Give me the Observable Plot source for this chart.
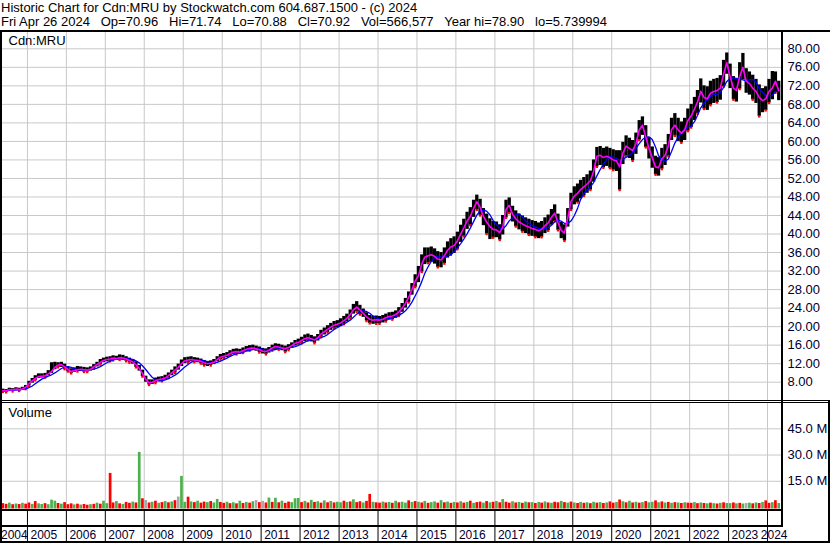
<!DOCTYPE html>
<html><head><meta charset="utf-8">
<script src="https://cdn.jsdelivr.net/npm/d3@7"></script>
<script src="https://cdn.jsdelivr.net/npm/@observablehq/plot@0.6"></script>
<style>
html,body{margin:0;padding:0;background:#fff;}
#wrap{position:relative;width:830px;height:543px;overflow:hidden;background:#fff;font-family:"Liberation Sans",Arial,sans-serif;color:#000;}
.abs{position:absolute;}
.txt{font-size:13px;line-height:14.4px;white-space:pre;}
.ln{position:absolute;background:#000;}
svg{overflow:visible;}
</style></head><body>
<div id="wrap">
  <div class="abs txt" id="title" style="left:1px;top:1px"></div>
  <div class="abs txt" id="info" style="left:1px;top:15.4px"></div>
  <div class="abs" id="price" style="left:0;top:32px"></div>
  <div class="abs" id="vol" style="left:0;top:403px"></div>
  <div class="abs" id="dates" style="left:0;top:510px"></div>
  <div class="abs txt" id="sym" style="left:8.5px;top:34.2px"></div>
  <div class="abs txt" id="vlab" style="left:8.5px;top:406.2px"></div>
  <div class="ln" style="left:0;top:30px;width:830px;height:2px"></div>
  <div class="ln" style="left:0;top:400px;width:830px;height:1px"></div>
  <div class="ln" style="left:0;top:402px;width:830px;height:1px"></div>
  <div class="ln" style="left:0;top:509px;width:783px;height:2px"></div>
  <div class="ln" style="left:0;top:525px;width:783px;height:2px"></div>
  <div class="ln" style="left:0;top:541px;width:830px;height:2px"></div>
  <div class="ln" style="left:0;top:30px;width:2px;height:513px"></div>
  <div class="ln" style="left:781px;top:30px;width:2px;height:497px"></div>
  <div class="ln" style="left:828px;top:400px;width:2px;height:143px"></div>
</div>
<script>
// ---------- text ----------
const titleText = "Historic Chart for Cdn:MRU by Stockwatch.com 604.687.1500 - (c) 2024";
const infoText = "Fri Apr 26 2024   Op=70.96   Hi=71.74   Lo=70.88   Cl=70.92   Vol=566,577   Year hi=78.90   lo=5.739994";
const symbolText = "Cdn:MRU";
const volumeText = "Volume";

// ---------- data (monthly, from 2004-05 to 2024-04) ----------
const startMonth = "2004-05";
const closes = [
  6.2, 6.1, 6.4, 6.3, 6.5, 6.4, 6.6, 6.9,
  7.7, 8.3, 8.8, 9.2, 9.3, 9.4, 9.8, 10.3, 11.2, 11.7, 11.8, 11.3,
  10.8, 10.3, 10.5, 10.7, 10.8, 10.7, 10.6, 10.8, 11.3, 11.8, 12.3, 12.7,
  12.9, 13.0, 13.2, 13.1, 13.3, 13.2, 13.0, 12.7, 12.4, 11.8, 11.0, 9.9,
  8.6, 7.9, 8.0, 8.3, 8.6, 8.7, 8.9, 9.4, 10.0, 10.6, 11.2, 12.0,
  12.6, 12.8, 12.9, 12.8, 12.7, 12.5, 12.2, 12.0, 12.1, 12.3, 12.9, 13.4,
  13.6, 13.8, 14.2, 14.5, 14.6, 14.5, 14.8, 15.1, 15.3, 15.4, 15.2, 15.0,
  14.7, 14.6, 14.9, 15.4, 15.7, 15.6, 15.4, 15.2, 15.5, 15.9, 16.4, 16.6,
  17.0, 17.4, 17.6, 17.4, 17.1, 17.6, 18.4, 18.9, 19.4, 19.9, 20.3, 20.5,
  20.8, 21.3, 21.8, 22.6, 23.6, 24.2, 23.6, 22.9, 22.1, 21.6, 21.4, 21.5,
  21.4, 21.6, 21.9, 22.2, 22.3, 22.6, 23.2, 24.0, 25.0, 26.3, 28.0, 29.8,
  31.0, 33.5, 35.0, 35.3, 35.5, 35.2, 34.6, 34.4, 35.3, 36.5, 37.2, 37.5,
  38.5, 40.0, 41.3, 42.8, 43.8, 45.5, 47.0, 45.8, 43.8, 42.6, 41.6, 41.0,
  40.9, 40.3, 41.5, 45.3, 46.2, 44.3, 43.3, 42.6, 42.2, 41.8, 41.5, 41.2,
  41.0, 40.7, 41.0, 41.8, 42.4, 43.6, 44.5, 42.5, 40.8, 40.2, 43.5, 47.0,
  48.2, 48.8, 49.6, 50.2, 50.8, 51.5, 53.5, 56.8, 57.0, 56.5, 56.8, 56.5,
  56.0, 55.8, 54.5, 57.5, 59.0, 58.5, 58.0, 59.5, 62.5, 63.5, 61.0, 58.5,
  56.5, 54.5, 54.3, 56.2, 57.0, 59.0, 62.5, 63.5, 62.5, 61.8, 62.5, 64.5,
  65.5, 67.0, 68.5, 70.8, 69.5, 69.2, 70.4, 70.8, 71.0, 71.5, 74.5, 77.0,
  74.0, 71.5, 71.0, 74.0, 76.0, 73.0, 72.5, 71.5, 70.8, 69.5, 68.8, 69.2,
  70.8, 71.5, 73.0, 71.0
];
const highs = [
  6.5, 6.4, 6.7, 6.6, 6.8, 6.7, 6.9, 7.3,
  8.2, 8.8, 9.4, 9.8, 9.8, 9.9, 10.5, 12.2, 12.3, 12.2, 12.3, 11.9,
  11.3, 10.9, 11.1, 11.4, 11.3, 11.2, 11.1, 11.3, 11.8, 12.3, 12.9, 13.2,
  13.4, 13.5, 13.7, 13.6, 13.9, 13.8, 13.5, 13.2, 12.9, 12.4, 11.6, 10.6,
  9.3, 8.5, 8.5, 8.9, 9.1, 9.2, 9.5, 10.0, 10.6, 11.3, 11.9, 12.8,
  13.3, 13.4, 13.5, 13.3, 13.2, 13.0, 12.7, 12.5, 12.6, 12.9, 13.5, 14.0,
  14.2, 14.4, 14.8, 15.1, 15.2, 15.1, 15.4, 15.7, 15.9, 16.0, 15.8, 15.6,
  15.3, 15.2, 15.5, 16.0, 16.3, 16.2, 16.0, 15.8, 16.1, 16.5, 17.0, 17.3,
  17.7, 18.2, 18.4, 18.1, 17.8, 18.3, 19.2, 19.7, 20.2, 20.7, 21.1, 21.3,
  21.7, 22.2, 22.7, 23.6, 24.8, 25.4, 24.6, 23.8, 23.0, 22.4, 22.2, 22.3,
  22.2, 22.4, 22.7, 23.0, 23.1, 23.4, 24.1, 25.0, 26.1, 27.5, 29.3, 31.2,
  33.0, 35.5, 37.0, 37.0, 37.2, 36.8, 36.2, 36.0, 37.0, 38.3, 39.0, 39.4,
  40.4, 41.9, 43.2, 44.7, 45.7, 47.3, 48.4, 47.5, 45.5, 44.3, 43.3, 42.7,
  42.6, 42.0, 44.0, 47.3, 47.8, 46.0, 45.0, 44.3, 43.9, 43.5, 43.2, 42.9,
  42.7, 42.4, 42.7, 43.5, 44.1, 45.3, 46.3, 44.3, 42.5, 42.0, 45.5, 48.8,
  50.2, 50.8, 51.6, 52.2, 52.8, 53.6, 56.0, 58.7, 58.9, 58.5, 58.8, 58.5,
  58.2, 58.0, 58.0, 59.8, 61.2, 60.7, 60.2, 61.8, 64.5, 65.3, 63.4, 60.8,
  58.8, 56.8, 56.5, 58.5, 59.3, 61.5, 65.0, 66.0, 65.0, 64.2, 65.0, 67.0,
  68.0, 69.5, 71.0, 73.5, 72.0, 71.8, 73.0, 73.4, 73.6, 74.2, 77.5, 79.1,
  76.7, 74.0, 73.5, 77.0, 79.0, 75.7, 75.0, 74.3, 73.4, 72.2, 71.4, 71.8,
  73.4, 75.1, 75.0, 73.0
];
const lows = [
  5.9, 5.8, 6.0, 6.0, 6.2, 6.1, 6.3, 6.5,
  7.2, 7.8, 8.4, 8.8, 8.9, 9.0, 9.4, 9.9, 10.7, 11.2, 11.2, 10.8,
  10.3, 9.9, 10.1, 10.3, 10.3, 10.2, 10.2, 10.4, 10.9, 11.3, 11.8, 12.2,
  12.4, 12.5, 12.7, 12.7, 12.8, 12.7, 12.5, 12.2, 11.9, 11.2, 10.4, 9.2,
  8.0, 7.4, 7.5, 7.8, 8.1, 8.2, 8.4, 8.9, 9.4, 10.0, 10.6, 11.4,
  12.0, 12.2, 12.4, 12.3, 12.2, 12.0, 11.6, 11.4, 11.6, 11.8, 12.4, 12.9,
  13.1, 13.3, 13.7, 14.0, 14.0, 14.0, 14.3, 14.6, 14.8, 14.9, 14.7, 14.4,
  14.1, 14.0, 14.3, 14.8, 15.1, 15.0, 14.8, 14.5, 14.9, 15.3, 15.8, 16.0,
  16.4, 16.8, 17.0, 16.7, 16.4, 16.9, 17.7, 18.2, 18.7, 19.2, 19.6, 19.8,
  20.0, 20.5, 21.0, 21.8, 22.7, 23.2, 22.6, 22.0, 21.2, 20.7, 20.5, 20.6,
  20.6, 20.8, 21.1, 21.4, 21.5, 21.8, 22.3, 23.1, 24.0, 25.2, 26.8, 28.5,
  29.5, 31.8, 33.4, 33.7, 33.9, 33.5, 32.8, 32.7, 33.6, 34.8, 35.5, 35.8,
  36.7, 38.2, 39.5, 41.0, 41.9, 43.6, 45.2, 44.0, 41.8, 40.0, 38.8, 39.2,
  39.2, 38.7, 39.8, 43.5, 44.5, 42.6, 41.6, 40.9, 40.5, 40.1, 39.8, 39.5,
  39.3, 39.0, 39.3, 40.1, 40.7, 41.9, 42.7, 40.8, 39.0, 38.5, 41.5, 45.2,
  46.3, 46.8, 47.6, 48.2, 48.8, 49.5, 51.2, 54.5, 54.8, 54.3, 54.6, 54.2,
  53.8, 53.5, 49.5, 55.0, 56.8, 56.3, 55.8, 57.2, 60.3, 61.3, 58.7, 56.2,
  54.2, 52.8, 52.5, 54.0, 54.8, 56.8, 60.2, 61.2, 60.0, 59.7, 60.2, 62.2,
  63.0, 64.5, 66.0, 68.3, 67.0, 66.7, 67.8, 68.2, 68.4, 68.9, 71.8, 74.5,
  71.4, 69.0, 68.5, 71.3, 73.3, 70.4, 70.0, 69.0, 68.2, 65.4, 66.2, 66.7,
  68.3, 69.0, 70.5, 68.8
];
// volume in millions of shares
const volumes = [
  2.2, 1.8, 2.5, 1.6, 2.0, 1.7, 2.4, 1.9,
  2.6, 1.8, 3.4, 2.1, 1.7, 2.2, 1.6, 4.2, 3.6, 2.3, 1.9, 2.8,
  1.6, 2.1, 1.5, 1.9, 1.4, 1.7, 1.3, 1.6, 1.8, 2.5, 1.9, 3.6,
  2.2, 19.5, 2.6, 3.4, 2.1, 1.8, 2.9, 2.4, 3.1, 2.6, 31.5, 5.0,
  4.0, 2.6, 3.0, 3.6, 2.4, 2.8, 3.4, 2.7, 3.2, 3.9, 6.0, 17.8,
  3.0, 5.9, 3.2, 2.8, 3.6, 2.5, 3.1, 2.8, 3.4, 2.6, 4.6, 2.9,
  2.4, 3.0, 2.2, 2.7, 2.1, 3.6, 2.3, 2.9, 2.5, 3.3, 4.0, 2.8,
  3.5, 2.6, 5.4, 2.9, 5.3, 2.7, 3.6, 2.4, 3.1, 2.8, 5.0, 5.2,
  2.8, 3.5, 2.6, 4.1, 2.9, 3.3, 2.5, 3.8, 2.7, 3.4, 2.6, 3.0,
  2.7, 3.6, 2.9, 3.2, 4.4, 2.8, 3.3, 2.6, 3.5, 7.5, 3.0, 2.7,
  2.5, 3.1, 2.6, 2.9, 2.4, 3.6, 2.7, 3.0, 2.5, 3.8, 2.9, 3.4,
  3.0, 2.6, 3.5, 2.4, 2.8, 3.2, 2.5, 3.9, 2.7, 3.1, 2.4, 2.9,
  2.6, 3.3, 2.5, 2.9, 3.6, 2.4, 2.8, 3.1, 2.5, 3.4, 2.7, 3.0,
  3.4, 2.7, 4.6, 3.0, 2.5, 3.3, 2.6, 2.9, 2.4, 3.1, 2.7, 2.8,
  2.3, 2.9, 2.5, 3.2, 2.6, 2.4, 3.0, 2.7, 3.5, 2.8, 2.5, 3.1,
  2.6, 2.3, 2.9, 2.4, 2.7, 2.2, 3.0, 2.5, 2.8, 2.3, 2.6, 3.2,
  2.5, 2.9, 4.3, 3.3, 2.7, 3.6, 2.6, 3.0, 2.5, 2.8, 3.4, 2.7,
  3.0, 3.8, 2.7, 3.2, 2.6, 2.9, 2.4, 2.8, 2.6, 2.3, 2.7, 2.5,
  2.4, 2.8, 2.2, 2.6, 2.3, 2.1, 2.5, 2.2, 2.0, 2.4, 2.7, 2.3,
  2.2, 2.6, 2.1, 2.4, 2.0, 2.3, 2.5, 2.1, 2.6, 2.3, 2.9, 3.8,
  2.4, 2.8, 3.9, 2.3
];
// volume bar direction: g = up, r = down, n = unchanged
const volDirs =
  "rrgrgrgr" +
  "rgrggrgggrgr" + "rrgrgrrgrgrg" + "grrgrgrrgrgr" + "nrgrgrgrgrng" +
  "grgrgrrgrggr" + "rgrgrgrgrgnr" + "nrgrgrgrrggg" + "rgrgrgrgrgrg" +
  "grgrgrrgrrgr" + "rgrgrgrggrgr" + "grgrggrgrgrg" + "rgrgrgrrgrgr" +
  "grgrrgrgrgrg" + "rgrgrgrrgrgr" + "grgrgrgrgrgr" + "rgrgrgrgrgrg" +
  "grgrgrgrgrgr" + "rgrgrgrgrgrg" + "grgrgngrgrgr" + "rgrg";
const dirColors = {g: "#4cb04c", r: "#ff0000", n: "#a8a8a8"};

const priceTicks = [8, 12, 16, 20, 24, 28, 32, 36, 40, 44, 48, 52, 56, 60, 64, 68, 72, 76, 80];
const volTicks = [15, 30, 45];
const gridYears = [2005, 2006, 2007, 2008, 2009, 2010, 2011, 2012, 2013, 2014, 2015, 2016, 2017, 2018, 2019, 2020, 2021, 2022, 2023, 2024];
const yearLabels = ["2004", "2005", "2006", "2007", "2008", "2009", "2010", "2011", "2012", "2013", "2014", "2015", "2016", "2017", "2018", "2019", "2020", "2021", "2022", "2023", "2024"];

// ---------- header text ----------
document.getElementById("title").textContent = titleText;
document.getElementById("info").textContent = infoText;
document.getElementById("sym").textContent = symbolText;
document.getElementById("vlab").textContent = volumeText;

// ---------- build rows ----------
const t0 = d3.utcParse("%Y-%m")(startMonth);
const rows = closes.map((c, i) => ({
  date: d3.utcDay.offset(d3.utcMonth.offset(t0, i), 14),
  close: c, hi: highs[i], lo: lows[i], vol: volumes[i], dir: volDirs[i]
}));
const yearDates = gridYears.map(y => new Date(Date.UTC(y, 0, 1)));

// ---------- layout ----------
const W = 830, ML = 2, MR = 49;
const xDomain = [new Date(Date.UTC(2004, 4, 12)), new Date(Date.UTC(2024, 4, 11))];
const FONT = "Liberation Sans, Arial, sans-serif";
const GRID = "#c8c8c8";
const LABEL = "#000030";

// price panel: svg spans page y 32..400
const PH = 368, pTop = 16.3, pBot = 349.7; // pixel rows of 80 and 8
const ppu = (pBot - pTop) / 72;
const pDomain = [8 - (PH - pBot) / ppu, 80 + pTop / ppu];

const price = Plot.plot({
  width: W, height: PH, marginLeft: ML, marginRight: MR, marginTop: 0, marginBottom: 0,
  x: {type: "utc", domain: xDomain, axis: null},
  y: {domain: pDomain, label: null, axis: null},
  style: {fontFamily: FONT, fontSize: "13px", background: "transparent", overflow: "visible"},
  marks: [
    Plot.ruleY(priceTicks, {stroke: GRID, strokeWidth: 1}),
    Plot.ruleX(yearDates, {stroke: GRID, strokeWidth: 1}),
    Plot.ruleX(rows, {x: "date", y1: "lo", y2: "hi", stroke: "#000", strokeWidth: 3.3}),
    Plot.dot(rows.filter(d => d.dir === "r"), {x: "date", y: "lo", r: 1.3, fill: "#ff0000", symbol: "square"}),
    Plot.lineY(rows, Plot.windowY({k: 5, anchor: "end"}, {x: "date", y: "close", stroke: "#0000ff", strokeWidth: 1.3})),
    Plot.lineY(rows, {x: "date", y: "close", stroke: "#ff00ff", strokeWidth: 1.6}),
    Plot.axisY(priceTicks, {anchor: "right", tickSize: 0, tickPadding: 6, tickFormat: d => d.toFixed(2), fill: LABEL, fontSize: 13, label: null})
  ]
});
document.getElementById("price").appendChild(price);

// volume panel: svg spans page y 403..510
const VH = 107, v0 = 104, v45 = 25.3;
const vpu = (v0 - v45) / 45;
const vDomain = [-(VH - v0) / vpu, 45 + v45 / vpu];
const vBase = -(105.5 - v0) / vpu;

const vol = Plot.plot({
  width: W, height: VH, marginLeft: ML, marginRight: MR, marginTop: 0, marginBottom: 0,
  x: {type: "utc", domain: xDomain, axis: null},
  y: {domain: vDomain, label: null, axis: null},
  color: {type: "identity"},
  style: {fontFamily: FONT, fontSize: "13px", background: "transparent", overflow: "visible"},
  marks: [
    Plot.ruleY(volTicks, {stroke: GRID, strokeWidth: 1}),
    Plot.ruleX(yearDates, {stroke: GRID, strokeWidth: 1}),
    Plot.ruleX(rows, {x: "date", y1: () => vBase, y2: "vol", stroke: d => dirColors[d.dir], strokeWidth: 2.7}),
    Plot.axisY(volTicks, {anchor: "right", tickSize: 0, tickPadding: 6, tickFormat: d => d.toFixed(1) + " M", fill: LABEL, fontSize: 13, label: null})
  ]
});
document.getElementById("vol").appendChild(vol);

// date row: svg spans page y 510..543
const DH = 33;
const midLabels = yearLabels.slice(1, -1).map((t, i) => ({date: yearDates[i], label: t}));
const dates = Plot.plot({
  width: W, height: DH, marginLeft: ML, marginRight: MR, marginTop: 0, marginBottom: 0,
  x: {type: "utc", domain: xDomain, axis: null},
  y: {axis: null},
  style: {fontFamily: FONT, fontSize: "12px", background: "transparent", overflow: "visible"},
  marks: [
    Plot.ruleX(yearDates, {stroke: "#000", strokeWidth: 1}),
    Plot.text([{date: xDomain[0], label: yearLabels[0]}], {x: "date", text: "label", frameAnchor: "top", lineAnchor: "middle", dy: 25, textAnchor: "start", dx: -1.5, fill: LABEL, fontSize: 12}),
    Plot.text(midLabels, {x: "date", text: "label", frameAnchor: "top", lineAnchor: "middle", dy: 25, textAnchor: "start", dx: 3, fill: LABEL, fontSize: 12}),
    Plot.text([{date: xDomain[1], label: yearLabels[yearLabels.length - 1]}], {x: "date", text: "label", frameAnchor: "top", lineAnchor: "middle", dy: 25, textAnchor: "end", dx: 6, fill: LABEL, fontSize: 12})
  ]
});
document.getElementById("dates").appendChild(dates);
</script>
</body></html>
